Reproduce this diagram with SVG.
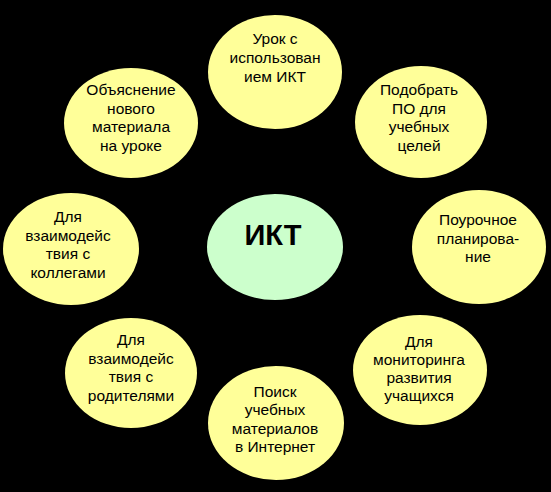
<svg xmlns="http://www.w3.org/2000/svg" width="551" height="492" viewBox="0 0 551 492">
<style>
.bg{fill:#000}
.n{fill:#FFFF99}
.c{fill:#CCFFCC}
text{font-family:"Liberation Sans",Arial,sans-serif;font-size:15.5px;fill:#000;text-anchor:middle}
.t{font-size:29px;font-weight:bold}
</style>
<rect class="bg" x="0" y="0" width="551" height="492"/>
<g id="connectors"></g>
<g id="center">
<ellipse class="c" cx="275" cy="247" rx="68" ry="53"/>
<text class="t" x="273" y="245">ИКТ</text>
</g>
<g id="n1">
<ellipse class="n" cx="275" cy="72" rx="67" ry="57"/>
<text x="275" y="44">Урок с</text>
<text x="275" y="63">использован</text>
<text x="275" y="82">ием ИКТ</text>
</g>
<g id="n2">
<ellipse class="n" cx="421" cy="122" rx="66" ry="56"/>
<text x="419" y="95">Подобрать</text>
<text x="419" y="113.5">ПО для</text>
<text x="419" y="132">учебных</text>
<text x="419" y="150.5">целей</text>
</g>
<g id="n3">
<ellipse class="n" cx="479" cy="247" rx="67" ry="57"/>
<text x="478" y="225">Поурочное</text>
<text x="478" y="243.5">планирова-</text>
<text x="478" y="262">ние</text>
</g>
<g id="n4">
<ellipse class="n" cx="420" cy="370" rx="67" ry="55"/>
<text x="419" y="347">Для</text>
<text x="419" y="365">мониторинга</text>
<text x="419" y="383">развития</text>
<text x="419" y="401">учащихся</text>
</g>
<g id="n5">
<ellipse class="n" cx="276" cy="423" rx="68" ry="57"/>
<text x="275" y="397">Поиск</text>
<text x="275" y="415">учебных</text>
<text x="275" y="433.5">материалов</text>
<text x="275" y="452">в Интернет</text>
</g>
<g id="n6">
<ellipse class="n" cx="131" cy="373" rx="66" ry="55"/>
<text x="131" y="345">Для</text>
<text x="131" y="363.5">взаимодейс</text>
<text x="131" y="382">твия с</text>
<text x="131" y="400.5">родителями</text>
</g>
<g id="n7">
<ellipse class="n" cx="71" cy="249" rx="68" ry="56"/>
<text x="68" y="222">Для</text>
<text x="68" y="240.5">взаимодейс</text>
<text x="68" y="259">твия с</text>
<text x="68" y="277.5">коллегами</text>
</g>
<g id="n8">
<ellipse class="n" cx="131" cy="123" rx="67" ry="55"/>
<text x="131" y="95">Объяснение</text>
<text x="131" y="113.5">нового</text>
<text x="131" y="132">материала</text>
<text x="131" y="150.5">на уроке</text>
</g>
</svg>
